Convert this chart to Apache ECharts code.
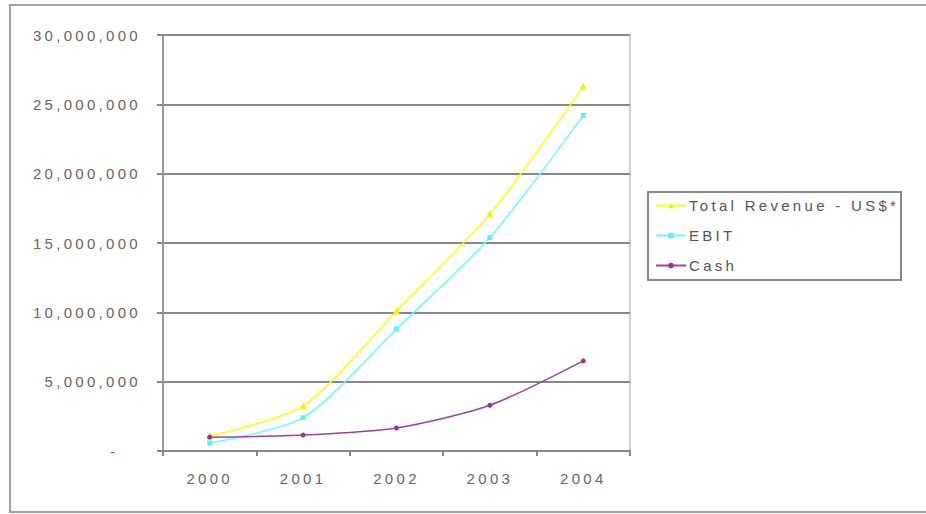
<!DOCTYPE html>
<html>
<head>
<meta charset="utf-8">
<script src="https://cdn.jsdelivr.net/npm/echarts@6/dist/echarts.min.js"></script>
<style>
  html, body { margin: 0; padding: 0; background: #fff; }
  #chart { width: 926px; height: 514px; }
  /* the old spreadsheet chart uses wide tracking on all its text */
  #chart text { letter-spacing: 3.3px; }
</style>
</head>
<body>
<div id="chart"></div>
<script>
// chart data
const years = ['2000', '2001', '2002', '2003', '2004'];
const revenue = [1080000, 3250000, 10100000, 17100000, 26300000];
const ebit = [580000, 2400000, 8800000, 15400000, 24200000];
const cash = [1000000, 1150000, 1660000, 3300000, 6500000];

const chart = echarts.init(document.getElementById('chart'), null, { renderer: 'svg' });

const labelFont = { color: '#666', fontSize: 15, fontFamily: 'Liberation Sans, Arial, sans-serif' };

chart.setOption({
  animation: false,
  backgroundColor: '#fff',
  graphic: [
    {
      type: 'rect',
      shape: { x: 10, y: 5, width: 930, height: 507 },
      style: { fill: 'none', stroke: '#a0a0a0', lineWidth: 2 }
    },
    {
      // legend frame
      type: 'rect',
      shape: { x: 648, y: 192, width: 253, height: 88 },
      style: { fill: 'none', stroke: '#888', lineWidth: 2 }
    }
  ],
  grid: {
    left: 163, right: 296, top: 35, bottom: 63,
    show: true, borderColor: '#d0d0d0', borderWidth: 2
  },
  legend: {
    orient: 'vertical',
    left: 655, top: 198,
    itemWidth: 30, itemHeight: 7, itemGap: 15,
    padding: 0,
    textStyle: { color: '#555', fontSize: 15, fontFamily: 'Liberation Sans, Arial, sans-serif', padding: [0, 0, 0, -2] },
    data: ['Total Revenue - US$*', 'EBIT', 'Cash']
  },
  xAxis: {
    type: 'category',
    data: years,
    boundaryGap: true,
    axisLine: { lineStyle: { color: '#888', width: 2 } },
    axisTick: { show: true, length: 5, lineStyle: { color: '#888', width: 2 } },
    axisLabel: Object.assign({ margin: 20 }, labelFont)
  },
  yAxis: {
    type: 'value',
    min: 0, max: 30000000, interval: 5000000,
    axisLine: { show: true, lineStyle: { color: '#999', width: 2 } },
    axisTick: { show: true, length: 6, lineStyle: { color: '#888', width: 2 } },
    splitLine: { lineStyle: { color: '#888', width: 2 } },
    axisLabel: Object.assign({
      margin: 22,
      formatter: v => v === 0 ? '-\u00a0\u00a0\u00a0' : v.toLocaleString('en-US')
    }, labelFont)
  },
  series: [
    {
      name: 'Total Revenue - US$*', type: 'line', data: revenue,
      smooth: 0.25, symbol: 'triangle', symbolSize: 7,
      lineStyle: { color: '#ffff00', width: 1.5 },
      itemStyle: { color: '#f5f000' }
    },
    {
      name: 'EBIT', type: 'line', data: ebit,
      smooth: 0.25, symbol: 'rect', symbolSize: 5,
      lineStyle: { color: '#66ffff', width: 1.5 },
      itemStyle: { color: '#55f5f5' }
    },
    {
      name: 'Cash', type: 'line', data: cash,
      smooth: 0.25, symbol: 'circle', symbolSize: 5,
      lineStyle: { color: '#a040a0', width: 1.5 },
      itemStyle: { color: '#993399' }
    }
  ]
});
</script>
</body>
</html>
